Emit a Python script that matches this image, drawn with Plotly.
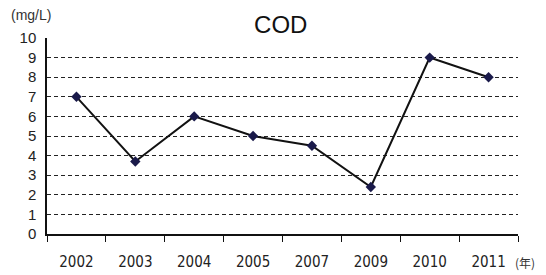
import plotly.graph_objects as go

years = ["2002", "2003", "2004", "2005", "2007", "2009", "2010", "2011"]
cod = [7.0, 3.7, 6.0, 5.0, 4.5, 2.4, 9.0, 8.0]
y_ticks = [0, 1, 2, 3, 4, 5, 6, 7, 8, 9, 10]

fig = go.Figure()
fig.add_trace(go.Scatter(
    x=years, y=cod, mode="lines+markers",
    line=dict(color="#111111", width=2),
    marker=dict(symbol="diamond", size=8, color="#1a1a4a"),
    showlegend=False,
))

fig.update_layout(
    width=538, height=267,
    margin=dict(l=39, r=28, t=30, b=41, autoexpand=False),
    paper_bgcolor="white", plot_bgcolor="white",
    font=dict(family="Liberation Sans, Arial, sans-serif", color="#222222"),
    title=dict(text="COD", x=0.507, xanchor="center", y=0.97, yanchor="top",
               font=dict(size=24, color="#111111"), automargin=False),
    xaxis=dict(
        type="category", tickson="boundaries", ticks="outside", ticklen=6,
        tickcolor="#111111", showline=True, linecolor="#111111", linewidth=1.5,
        showgrid=False, automargin=False,
        tickfont=dict(size=15, family="DejaVu Sans Condensed, Liberation Sans Narrow, sans-serif"),
        range=[-0.5, 7.5], ticklabelstandoff=13,
    ),
    yaxis=dict(
        range=[0, 10], tickvals=y_ticks, showline=True, linecolor="#111111", linewidth=1.5,
        showgrid=True, gridcolor="#222222", griddash="4px,3px", gridwidth=1,
        zeroline=False, ticks="", tickfont=dict(size=15), automargin=False,
        ticklabelstandoff=6,
    ),
    annotations=[
        dict(text="(mg/L)", xref="paper", yref="paper", x=-0.08, y=1.117, xanchor="left",
             yanchor="middle", showarrow=False, font=dict(size=14, color="#333333")),
        dict(text="(年)", xref="paper", yref="paper", x=0.989, y=-0.143, xanchor="left",
             yanchor="middle", showarrow=False,
             font=dict(size=12, color="#333333", family="Noto Sans CJK JP")),
    ],
)

fig.write_html("out.html")
